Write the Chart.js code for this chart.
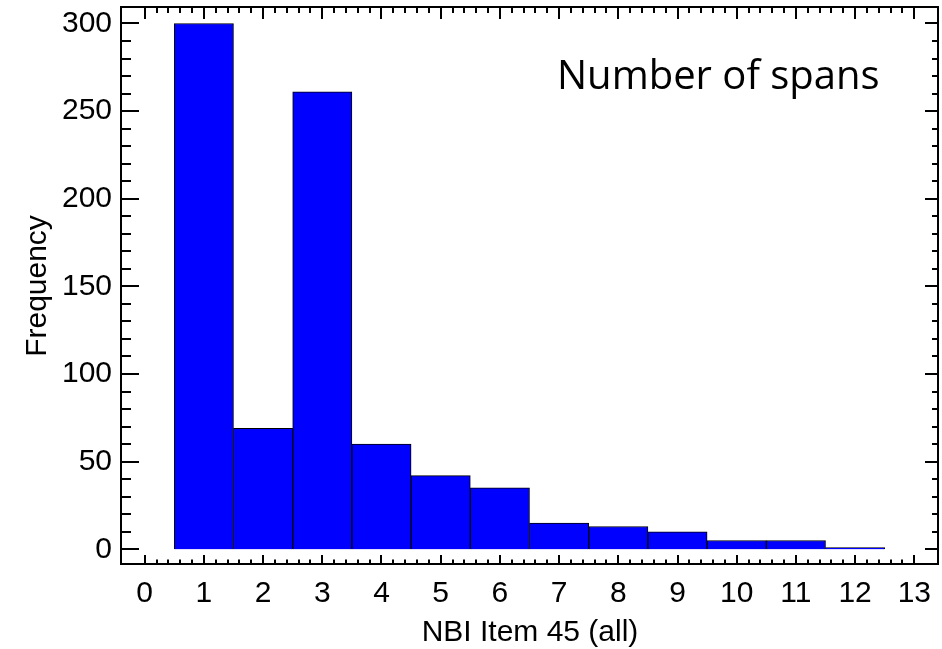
<!DOCTYPE html>
<html>
<head>
<meta charset="utf-8">
<script src="https://cdn.jsdelivr.net/npm/chart.js@4"></script>
<style>
html, body { margin: 0; padding: 0; background: #fff; }
</style>
</head>
<body>
<canvas id="spansChart" width="942" height="649"></canvas>
<script>
// histogram of NBI item 45 (number of spans)
const binCenters = [1, 2, 3, 4, 5, 6, 7, 8, 9, 10, 11, 12];
const frequencies = [300, 69, 261, 60, 42, 35, 15, 13, 10, 5, 5, 1];
const xTickValues = [0, 1, 2, 3, 4, 5, 6, 7, 8, 9, 10, 11, 12, 13];
const yTickValues = [0, 50, 100, 150, 200, 250, 300];
const xMinorStep = 0.2;
const yMinorStep = 10;

const AXIS_FONT = '"Liberation Sans", Arial, sans-serif';

// frame + inward ticks on all 4 sides, plus the text labels
const frameTicksPlugin = {
    id: 'frameTicks',
    afterDraw(chart) {
        const ctx = chart.ctx;
        const area = chart.chartArea;
        const xs = chart.scales.x;
        const ys = chart.scales.y;
        ctx.save();
        ctx.strokeStyle = '#000';
        ctx.lineWidth = 2;
        ctx.strokeRect(area.left, area.top, area.right - area.left, area.bottom - area.top);

        ctx.beginPath();
        const xFirst = xTickValues[0], xLast = xTickValues[xTickValues.length - 1];
        const nx = Math.round((xLast - xFirst) / xMinorStep);
        for (let i = 0; i <= nx; i++) {
            const v = xFirst + i * xMinorStep;
            const px = Math.round(xs.getPixelForValue(v));
            const major = i % 5 === 0;
            ctx.moveTo(px, area.bottom);
            ctx.lineTo(px, area.bottom - (major ? 9 : 4.5));
            ctx.moveTo(px, area.top);
            ctx.lineTo(px, area.top + (major ? 12 : 6));
        }
        const yFirst = yTickValues[0], yLast = yTickValues[yTickValues.length - 1];
        const ny = Math.round((yLast - yFirst) / yMinorStep);
        for (let i = 0; i <= ny; i++) {
            const v = yFirst + i * yMinorStep;
            const py = Math.round(ys.getPixelForValue(v));
            const major = i % 5 === 0;
            ctx.moveTo(area.left, py);
            ctx.lineTo(area.left + (major ? 18 : 10), py);
            ctx.moveTo(area.right, py);
            ctx.lineTo(area.right - (major ? 13 : 6), py);
        }
        ctx.stroke();

        ctx.fillStyle = '#000';
        // annotation
        ctx.font = '40px "Open Sans", sans-serif';
        ctx.textAlign = 'left';
        ctx.textBaseline = 'alphabetic';
        ctx.fillText('Number of spans', 557, 89);

        // axis titles
        ctx.font = '30px ' + AXIS_FONT;
        ctx.textAlign = 'center';
        ctx.fillText('NBI Item 45 (all)', 530, 641);

        ctx.translate(38, 286);
        ctx.rotate(-Math.PI / 2);
        ctx.textBaseline = 'middle';
        ctx.fillText('Frequency', 0, 0);
        ctx.restore();
    }
};

const canvas = document.getElementById('spansChart');
const spansChart = new Chart(canvas, {
    type: 'bar',
    data: {
        datasets: [{
            data: binCenters.map((x, i) => ({ x: x, y: frequencies[i] })),
            backgroundColor: '#0000FF',
            borderColor: '#000',
            borderWidth: 1,
            barPercentage: 1,
            categoryPercentage: 1
        }]
    },
    options: {
        responsive: false,
        animation: false,
        layout: { padding: { top: 7, right: 4, left: 0, bottom: 0 } },
        plugins: {
            legend: { display: false },
            tooltip: { enabled: false }
        },
        scales: {
            x: {
                type: 'linear',
                offset: false,
                min: -0.4,
                max: 13.4,
                grid: { display: false, drawTicks: false, offset: false },
                border: { display: false },
                afterBuildTicks: (scale) => { scale.ticks = xTickValues.map(v => ({ value: v })); },
                afterFit: (scale) => {
                    scale.height = 85;
                    scale.paddingLeft = 0;
                    scale.paddingRight = 0;
                },
                ticks: {
                    color: '#000',
                    padding: 12,
                    maxRotation: 0,
                    autoSkip: false,
                    font: { family: AXIS_FONT, size: 30 }
                }
            },
            y: {
                min: -8.4,
                max: 309.4,
                grid: { display: false, drawTicks: false },
                border: { display: false },
                afterBuildTicks: (scale) => { scale.ticks = yTickValues.map(v => ({ value: v })); },
                afterFit: (scale) => {
                    scale.width = 121;
                    scale.paddingTop = 0;
                    scale.paddingBottom = 0;
                },
                ticks: {
                    color: '#000',
                    padding: 9,
                    autoSkip: false,
                    font: { family: AXIS_FONT, size: 30 }
                }
            }
        }
    },
    plugins: [frameTicksPlugin]
});
</script>
</body>
</html>
